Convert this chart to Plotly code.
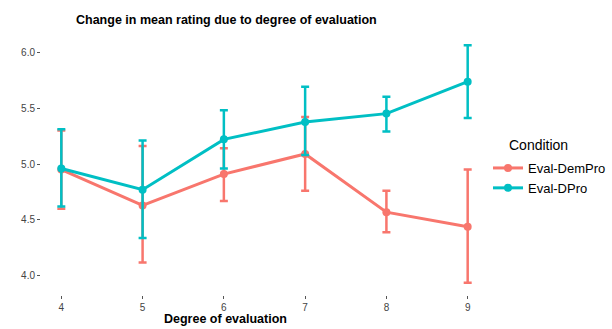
import plotly.graph_objects as go

degree = [4, 5, 6, 7, 8, 9]

demp_mean = [4.95, 4.63, 4.91, 5.09, 4.57, 4.44]
demp_lo = [4.60, 4.12, 4.67, 4.76, 4.39, 3.94]
demp_hi = [5.30, 5.16, 5.14, 5.42, 4.76, 4.95]

dpro_mean = [4.96, 4.77, 5.22, 5.375, 5.45, 5.735]
dpro_lo = [4.62, 4.34, 4.96, 5.08, 5.29, 5.41]
dpro_hi = [5.31, 5.21, 5.48, 5.69, 5.60, 6.06]

series = [
    ("Eval-DemPro", demp_mean, demp_lo, demp_hi, "#F8766D"),
    ("Eval-DPro", dpro_mean, dpro_lo, dpro_hi, "#00BFC4"),
]

FONT = "Liberation Sans, Arial, sans-serif"
W, H = 612, 329
L, R, T, B = 41, 123, 33, 34
PW, PH = W - L - R, H - T - B

fig = go.Figure()
for name, m, lo, hi, col in series:
    fig.add_trace(go.Scatter(
        x=degree, y=m, name=name, mode="lines+markers",
        line=dict(color=col, width=3),
        marker=dict(color=col, size=8),
        error_y=dict(type="data", symmetric=False,
                     array=[h - v for h, v in zip(hi, m)],
                     arrayminus=[v - l for v, l in zip(m, lo)],
                     color=col, thickness=2.5, width=4),
    ))

fig.add_annotation(text="<b>Degree of evaluation</b>", xref="paper", yref="paper",
                   x=(226 - L) / PW, y=(H - B - 319) / PH, xanchor="center", yanchor="middle",
                   showarrow=False, font=dict(size=12.5, color="black", family=FONT))
fig.add_annotation(text="Condition", xref="paper", yref="paper",
                   x=(508 - L) / PW, y=(H - B - 145) / PH, xanchor="left", yanchor="middle",
                   showarrow=False, font=dict(size=14, color="black", family=FONT))

fig.update_layout(
    width=W, height=H,
    paper_bgcolor="white", plot_bgcolor="white",
    margin=dict(l=L, r=R, t=T, b=B),
    font=dict(family=FONT),
    title=dict(text="<b>Change in mean rating due to degree of evaluation</b>",
               x=76 / W, xanchor="left", y=1 - 20 / H, yanchor="middle",
               font=dict(size=12.5, color="black", family=FONT)),
    showlegend=True,
    legend=dict(xref="container", yref="container",
                x=488 / W, xanchor="left", y=1 - 153 / H, yanchor="top",
                font=dict(size=13, color="black"), bgcolor="rgba(0,0,0,0)",
                itemwidth=30, tracegroupgap=0),
    xaxis=dict(range=[3.75, 9.25], tickvals=degree, ticktext=[str(d) for d in degree],
               automargin=False,
               showgrid=False, zeroline=False, showline=False,
               ticks="outside", ticklen=3, tickcolor="#555", tickwidth=1,
               tickfont=dict(size=10, color="#444444")),
    yaxis=dict(range=[3.83, 6.17], tickvals=[4.0, 4.5, 5.0, 5.5, 6.0],
               ticktext=["4.0", "4.5", "5.0", "5.5", "6.0"],
               automargin=False,
               showgrid=False, zeroline=False, showline=False,
               ticks="outside", ticklen=3, tickcolor="#555", tickwidth=1,
               tickfont=dict(size=10, color="#444444")),
)

fig.write_html("out.html", config={"displayModeBar": False},
               post_script="document.body.style.margin='0';")
